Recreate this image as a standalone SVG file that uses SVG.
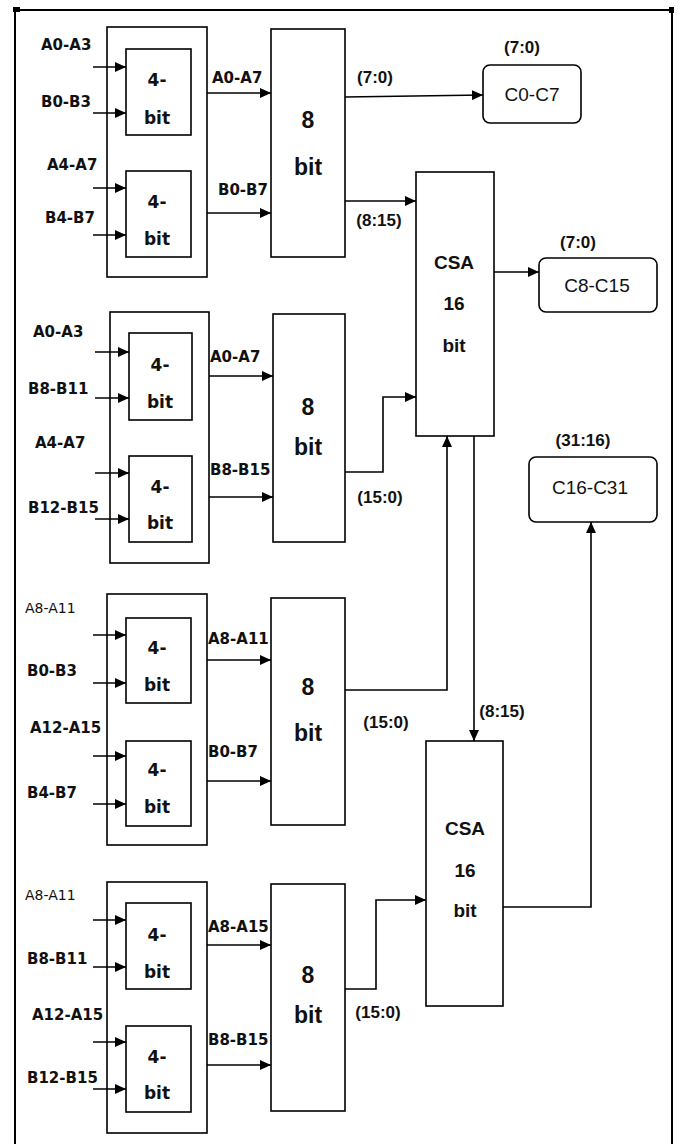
<svg xmlns="http://www.w3.org/2000/svg" width="680" height="1144" viewBox="0 0 680 1144">
<defs>
<marker id="ah" markerUnits="userSpaceOnUse" markerWidth="12" markerHeight="10" refX="11" refY="5" orient="auto">
<path d="M0,0 L11,5 L0,10 z" fill="#000"/>
</marker>
<style>
.b{fill:#fff;stroke:#000;stroke-width:1.6}
.r{fill:#fff;stroke:#000;stroke-width:1.6}
.w{fill:none;stroke:#000;stroke-width:1.6;marker-end:url(#ah)}
.lb{font-family:"DejaVu Sans",sans-serif;font-weight:bold;font-size:15px;fill:#111}
.lt{font-family:"DejaVu Sans",sans-serif;font-size:14px;fill:#111}
.f4{font-family:"DejaVu Sans",sans-serif;font-weight:bold;font-size:17px;fill:#111;text-anchor:middle}
.f8{font-family:"Liberation Sans",sans-serif;font-weight:bold;font-size:23px;fill:#111;text-anchor:middle}
.fc{font-family:"Liberation Sans",sans-serif;font-weight:bold;font-size:19px;fill:#111;text-anchor:middle}
.fp{font-family:"Liberation Sans",sans-serif;font-weight:bold;font-size:17px;fill:#111;text-anchor:middle}
.fo{font-family:"Liberation Sans",sans-serif;font-size:19px;fill:#111;text-anchor:middle}
</style>
</defs>
<rect width="680" height="1144" fill="#fff"/>
<g id="frame" fill="none" stroke="#000">
<path d="M15,1144 V10 H672 V1144" stroke-width="2"/>
<rect x="13" y="7" width="7" height="5" fill="#000" stroke="none"/>
<rect x="669" y="7" width="5" height="6" fill="#000" stroke="none"/>
</g>

<g id="group1">
<rect class="b" x="107" y="27" width="100" height="250"/>
<g id="g1-4bit-a"><rect class="b" x="126" y="49" width="65" height="86"/><text class="f4" x="157" y="86">4-</text><text class="f4" x="157" y="124">bit</text></g>
<g id="g1-4bit-b"><rect class="b" x="126" y="171" width="65" height="86"/><text class="f4" x="157" y="208">4-</text><text class="f4" x="157" y="245">bit</text></g>
<text class="lb" x="41" y="50">A0-A3</text>
<text class="lb" x="41" y="107">B0-B3</text>
<text class="lb" x="47" y="170">A4-A7</text>
<text class="lb" x="45" y="223">B4-B7</text>
<text class="lb" x="212" y="83">A0-A7</text>
<text class="lb" x="218" y="195">B0-B7</text>
</g>
<g id="g1-8bit"><rect class="b" x="271" y="29" width="74" height="228"/><text class="f8" x="308" y="128">8</text><text class="f8" x="308" y="175">bit</text></g>

<g id="group2">
<rect class="b" x="110" y="312" width="99" height="251"/>
<g id="g2-4bit-a"><rect class="b" x="129" y="333" width="63" height="87"/><text class="f4" x="160" y="371">4-</text><text class="f4" x="160" y="408">bit</text></g>
<g id="g2-4bit-b"><rect class="b" x="129" y="456" width="63" height="86"/><text class="f4" x="160" y="493">4-</text><text class="f4" x="160" y="529">bit</text></g>
<text class="lb" x="33" y="337">A0-A3</text>
<text class="lb" x="28" y="394">B8-B11</text>
<text class="lb" x="35" y="448">A4-A7</text>
<text class="lb" x="28" y="513">B12-B15</text>
<text class="lb" x="210" y="362">A0-A7</text>
<text class="lb" x="210" y="475">B8-B15</text>
</g>
<g id="g2-8bit"><rect class="b" x="273" y="314" width="72" height="228"/><text class="f8" x="308" y="415">8</text><text class="f8" x="308" y="455">bit</text></g>

<g id="group3">
<rect class="b" x="107" y="594" width="100" height="251"/>
<g id="g3-4bit-a"><rect class="b" x="126" y="618" width="65" height="85"/><text class="f4" x="157" y="654">4-</text><text class="f4" x="157" y="691">bit</text></g>
<g id="g3-4bit-b"><rect class="b" x="126" y="741" width="65" height="85"/><text class="f4" x="157" y="776">4-</text><text class="f4" x="157" y="813">bit</text></g>
<text class="lt" x="25" y="613">A8-A11</text>
<text class="lb" x="27" y="676">B0-B3</text>
<text class="lb" x="30" y="733">A12-A15</text>
<text class="lb" x="27" y="798">B4-B7</text>
<text class="lb" x="208" y="644">A8-A11</text>
<text class="lb" x="208" y="757">B0-B7</text>
</g>
<g id="g3-8bit"><rect class="b" x="271" y="598" width="74" height="227"/><text class="f8" x="308" y="695">8</text><text class="f8" x="308" y="741">bit</text></g>

<g id="group4">
<rect class="b" x="107" y="882" width="100" height="251"/>
<g id="g4-4bit-a"><rect class="b" x="126" y="903" width="65" height="86"/><text class="f4" x="157" y="941">4-</text><text class="f4" x="157" y="978">bit</text></g>
<g id="g4-4bit-b"><rect class="b" x="126" y="1026" width="65" height="86"/><text class="f4" x="157" y="1063">4-</text><text class="f4" x="157" y="1099">bit</text></g>
<text class="lt" x="25" y="900">A8-A11</text>
<text class="lb" x="27" y="964">B8-B11</text>
<text class="lb" x="32" y="1020">A12-A15</text>
<text class="lb" x="27" y="1083">B12-B15</text>
<text class="lb" x="208" y="932">A8-A15</text>
<text class="lb" x="208" y="1045">B8-B15</text>
</g>
<g id="g4-8bit"><rect class="b" x="271" y="884" width="74" height="227"/><text class="f8" x="308" y="983">8</text><text class="f8" x="308" y="1023">bit</text></g>

<g id="csa1"><rect class="b" x="416" y="172" width="78" height="264"/><text class="fc" x="454" y="269">CSA</text><text class="fc" x="454" y="310">16</text><text class="fc" x="454" y="352">bit</text></g>
<g id="csa2"><rect class="b" x="426" y="741" width="77" height="265"/><text class="fc" x="465" y="835">CSA</text><text class="fc" x="465" y="877">16</text><text class="fc" x="465" y="917">bit</text></g>

<g id="out-c0"><rect class="r" x="483" y="65" width="98" height="58" rx="7"/><text class="fo" x="532" y="101">C0-C7</text><text class="fp" x="522" y="53" font-size="18">(7:0)</text></g>
<g id="out-c8"><rect class="r" x="539" y="258" width="118" height="54" rx="7"/><text class="fo" x="597" y="292">C8-C15</text><text class="fp" x="578" y="248" font-size="18">(7:0)</text></g>
<g id="out-c16"><rect class="r" x="529" y="457" width="128" height="65" rx="7"/><text class="fo" x="590" y="494">C16-C31</text><text class="fp" x="583" y="446" font-size="18">(31:16)</text></g>

<g id="connectors">
<path class="w" d="M93,67 H126"/><path class="w" d="M93,113 H126"/><path class="w" d="M93,188 H126"/><path class="w" d="M93,235 H126"/>
<path class="w" d="M207,93 H271"/><path class="w" d="M207,213 H271"/>
<path class="w" d="M95,352 H129"/><path class="w" d="M95,398 H129"/><path class="w" d="M95,473 H129"/><path class="w" d="M95,519 H129"/>
<path class="w" d="M209,376 H273"/><path class="w" d="M209,497 H273"/>
<path class="w" d="M93,635 H126"/><path class="w" d="M93,683 H126"/><path class="w" d="M93,756 H126"/><path class="w" d="M93,804 H126"/>
<path class="w" d="M207,660 H271"/><path class="w" d="M207,781 H271"/>
<path class="w" d="M93,920 H126"/><path class="w" d="M93,967 H126"/><path class="w" d="M93,1042 H126"/><path class="w" d="M93,1089 H126"/>
<path class="w" d="M207,945 H271"/><path class="w" d="M207,1065 H271"/>
<path class="w" d="M345,97 L483,95"/>
<path class="w" d="M345,201 H416"/>
<path class="w" d="M345,472 H383 V397 H416"/>
<path class="w" d="M345,690 H447 V436"/>
<path class="w" d="M474,436 V741"/>
<path class="w" d="M494,272 H539"/>
<path class="w" d="M345,989 H376 V900 H426"/>
<path class="w" d="M503,907 H591 V522"/>
<text class="fp" x="375" y="83">(7:0)</text>
<text class="fp" x="379" y="226">(8:15)</text>
<text class="fp" x="380" y="503">(15:0)</text>
<text class="fp" x="386" y="728">(15:0)</text>
<text class="fp" x="502" y="717">(8:15)</text>
<text class="fp" x="378" y="1018">(15:0)</text>
</g>
</svg>
